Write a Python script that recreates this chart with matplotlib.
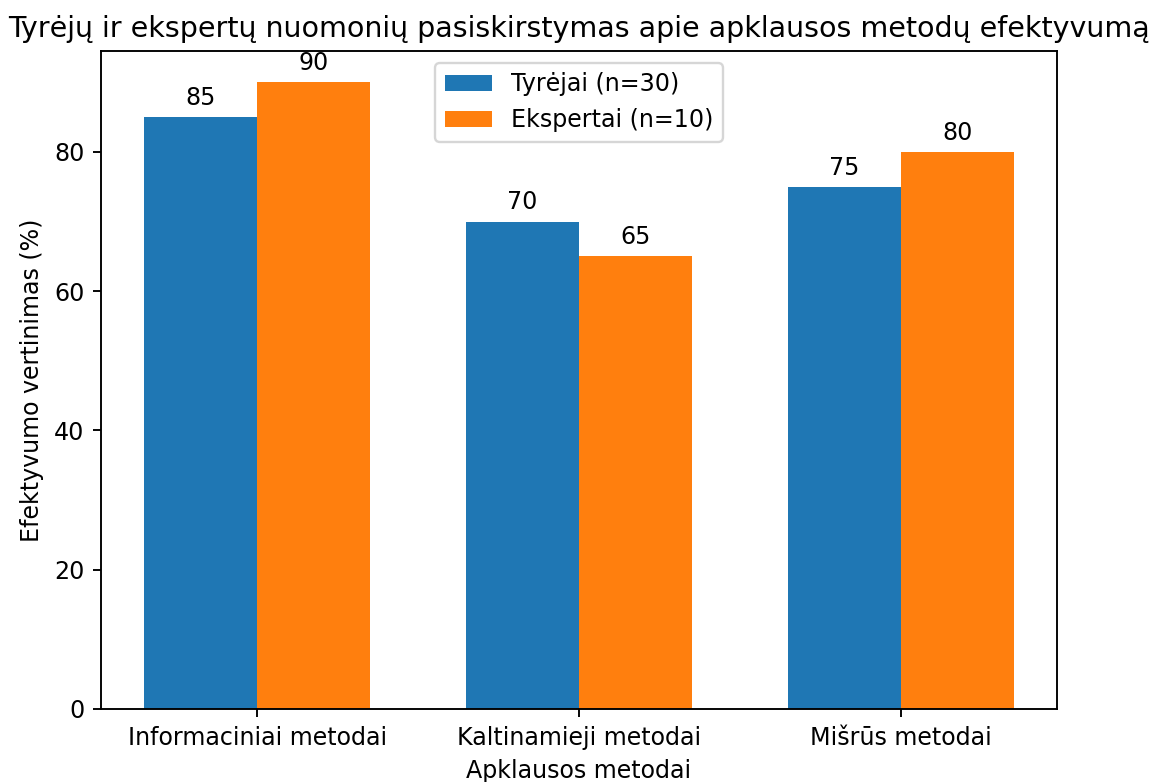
import matplotlib
matplotlib.use("Agg")
import matplotlib.pyplot as plt
import numpy as np

categories = ["Informaciniai metodai", "Kaltinamieji metodai", "Mišrūs metodai"]
researchers = [85, 70, 75]
experts = [90, 65, 80]
series_names = ["Tyrėjai (n=30)", "Ekspertai (n=10)"]

W, H, DPI = 1151, 782, 171
fig = plt.figure(figsize=(W / DPI, H / DPI), dpi=DPI)
ax = fig.add_axes([101 / W, 1 - 709 / H, (1057 - 101) / W, (709 - 51) / H])

x = np.arange(len(categories))
width = 0.35
b1 = ax.bar(x - width / 2, researchers, width, label=series_names[0], color="#1f77b4")
b2 = ax.bar(x + width / 2, experts, width, label=series_names[1], color="#ff7f0e")
ax.bar_label(b1, padding=3)
ax.bar_label(b2, padding=3)

ax.set_xticks(x)
ax.set_xticklabels(categories)
ax.set_xlabel("Apklausos metodai")
ax.set_ylabel("Efektyvumo vertinimas (%)")
ax.set_title("Tyrėjų ir ekspertų nuomonių pasiskirstymas apie apklausos metodų efektyvumą")
ax.legend(loc="upper center")

fig.savefig("out.png", dpi=DPI)
